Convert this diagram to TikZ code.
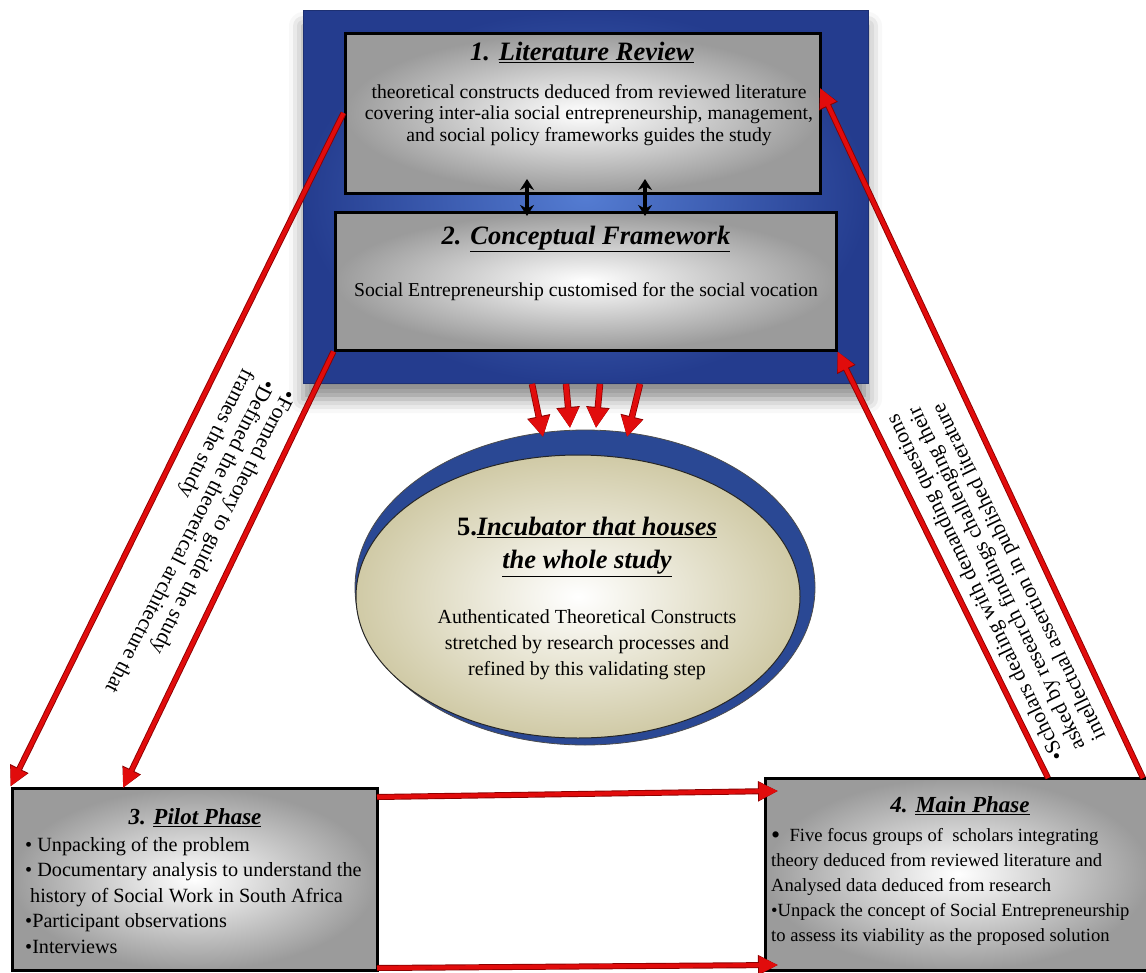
\documentclass[tikz,border=0pt]{standalone}
\usepackage{fontspec}
\setmainfont{Liberation Serif}
\usetikzlibrary{arrows.meta,shadows.blur,shapes.geometric}
\definecolor{navyout}{RGB}{36,60,142}
\definecolor{navyin}{RGB}{84,124,210}
\definecolor{ringblue}{RGB}{42,72,148}
\definecolor{creamout}{RGB}{208,202,166}
\definecolor{arrowred}{RGB}{225,12,12}
\definecolor{arrowdark}{RGB}{140,0,0}
\definecolor{boxgray}{RGB}{155,155,155}
\begin{document}
\begin{tikzpicture}[x=1pt,y=-1pt,
  graybox/.style={draw=black, line width=3pt, inner color=white, outer color=boxgray, inner sep=0pt, rectangle},
  bluebox/.style={draw=navyout!80!black, line width=1pt, inner color=navyin, outer color=navyout, inner sep=0pt, rectangle,
     blur shadow={shadow xshift=0pt, shadow yshift=-16pt, shadow blur radius=14pt, shadow opacity=45}},
  redarrow/.style={line width=4.2pt, draw=arrowred, -{Triangle[length=19pt,width=17pt]},
     preaction={draw=arrowdark, line width=6pt, -{Triangle[length=20pt,width=19pt]}}},
  downarrow/.style={line width=5pt, draw=arrowred, -{Triangle[length=20pt,width=20pt]},
     preaction={draw=arrowdark, line width=6.5pt, -{Triangle[length=21pt,width=22pt]}}},
  linkarrow/.style={line width=3.5pt, draw=black, {Stealth[length=11pt,width=14pt]}-{Stealth[length=11pt,width=14pt]}},
  titlefont/.style={font=\fontsize{26.5}{33}\selectfont\bfseries\itshape},
  smalltitle/.style={font=\fontsize{23}{28}\selectfont\bfseries\itshape},
  bodyfont/.style={font=\fontsize{19.7}{21.5}\selectfont},
  listfont/.style={font=\fontsize{20.2}{25.5}\selectfont},
  slantfont/.style={font=\fontsize{21.5}{23}\selectfont}
]
\path[use as bounding box] (0,0) rectangle (1146,972);

% blue frame
\node[bluebox, minimum width=565pt, minimum height=373pt] (frame) at (585.5,196.5) {};
% box 1 and 2
\node[graybox, minimum width=475pt, minimum height=160pt] (lit) at (582.5,113) {};
\node[graybox, minimum width=501pt, minimum height=138pt] (conc) at (585.5,281) {};

\node[titlefont] (lit-t) at (582,52) {1. \underline{Literature Review}};
\node[bodyfont, align=center] (lit-b) at (589,115) {theoretical constructs deduced from reviewed literature\\covering inter-alia social entrepreneurship, management,\\and social policy frameworks guides the study};
\node[titlefont] (conc-t) at (586,239) {2. \underline{Conceptual Framework}};
\node[bodyfont] (conc-b) at (586,292) {Social Entrepreneurship customised for the social vocation};

% link arrows between box 1 and 2
\coordinate (la1) at (527,179); \coordinate (lb1) at (527,216);
\coordinate (la2) at (645,179); \coordinate (lb2) at (645,216);
\draw[linkarrow] (la1) -- (lb1);
\draw[linkarrow] (la2) -- (lb2);

% ellipse
\node[ellipse, fill=ringblue, draw=black!70, line width=0.8pt, minimum width=460pt, minimum height=315pt, inner sep=0pt] (incub) at (585,587.5) {};
\node[ellipse, inner color=white, outer color=creamout, draw=black!85, line width=1pt, minimum width=444pt, minimum height=283pt, inner sep=0pt] (incubin) at (578,596.5) {};
\node[titlefont, align=center] (inc-t) at (587,547) {{\upshape 5.}\underline{Incubator that houses}\\\underline{the whole study}};
\node[bodyfont, align=center, font=\fontsize{20}{26}\selectfont] (inc-b) at (587,645) {Authenticated Theoretical Constructs\\stretched by research processes and\\refined by this validating step};

% down arrows
\coordinate (d1s) at (532,384); \coordinate (d1e) at (543,437);
\coordinate (d2s) at (566,384); \coordinate (d2e) at (570,428);
\coordinate (d3s) at (600,384); \coordinate (d3e) at (596,428);
\coordinate (d4s) at (640,384); \coordinate (d4e) at (627,437);
\draw[downarrow] (d1s) -- (d1e);
\draw[downarrow] (d2s) -- (d2e);
\draw[downarrow] (d3s) -- (d3e);
\draw[downarrow] (d4s) -- (d4e);

% box 3 and 4
\node[graybox, minimum width=365pt, minimum height=182pt] (pilot) at (194.5,879) {};
\node[graybox, minimum width=385pt, minimum height=192pt] (main) at (957.5,874) {};

\node[smalltitle] (pilot-t) at (195,818) {3. \underline{Pilot Phase}};
\node[listfont, align=left, anchor=north west, inner sep=0pt] (pilot-b) at (25,837) {• Unpacking of the problem\\• Documentary analysis to understand the\\\ history of Social Work in South Africa\\•Participant observations\\•Interviews};
\node[smalltitle] (main-t) at (960,806) {4. \underline{Main Phase}};
\node[align=left, anchor=north west, inner sep=0pt, font=\fontsize{18.6}{25}\selectfont] (main-b) at (771,828) {\raisebox{-2.5pt}{\fontsize{26}{25}\selectfont•}\ \ Five focus groups of\ \ scholars integrating\\theory deduced from reviewed literature and\\Analysed data deduced from research\\•Unpack the concept of Social Entrepreneurship\\to assess its viability as the proposed solution};

% long connectors
\coordinate (p3a) at (123,788);
\coordinate (m4a) at (1048,778);
\coordinate (m4b) at (1143,778);
\coordinate (l1e) at (820,88);
\draw[redarrow] (lit.west) -- (pilot.north west);
\draw[redarrow] (conc.south west) -- (p3a);
\draw[redarrow] (m4a) -- (conc.south east);
\draw[redarrow] (m4b) -- (l1e);
\coordinate (e1s) at (377,797); \coordinate (e1e) at (778,791);
\coordinate (e2s) at (377,968); \coordinate (e2e) at (778,965);
\draw[redarrow] (e1s) -- (e1e);
\draw[redarrow] (e2s) -- (e2e);

% connector labels
\node[slantfont, rotate=-117, align=left, inner sep=0pt] (lab-left) at (189,536) {•Formed theory to guide the study\\•Defined the theoretical architecture that\\frames the study};
\node[slantfont, rotate=116, align=left, inner sep=0pt] (lab-right) at (997,577) {•Scholars dealing with demanding questions\\asked by research findings challenging their\\intellectual assertion in published literature};
\end{tikzpicture}
\end{document}
